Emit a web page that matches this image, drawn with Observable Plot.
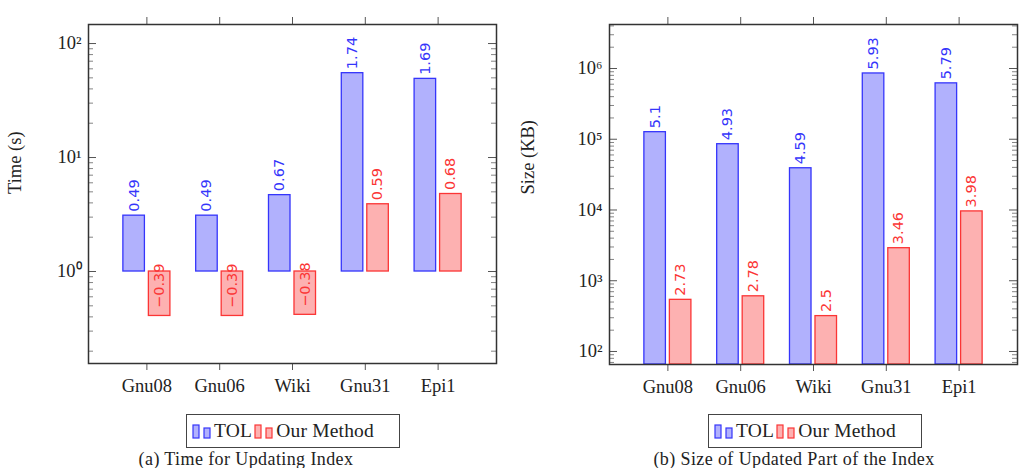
<!DOCTYPE html>
<html>
<head>
<meta charset="utf-8">
<script src="https://cdn.jsdelivr.net/npm/d3@7"></script>
<script src="https://cdn.jsdelivr.net/npm/@observablehq/plot@0.6"></script>
<style>
  html, body { margin: 0; padding: 0; width: 1026px; height: 468px; overflow: hidden; background: #fff; }
  .abs { position: absolute; }
  .legend { position: absolute; top: 414px; width: 207px; height: 32px; border: 1.5px solid #444; box-sizing: content-box;
            font-family: "Liberation Serif", serif; font-size: 19.5px; color: #222; display: flex; align-items: center; padding-left: 5px; letter-spacing: 0.2px; }
  .legend svg { display: block; }
  .legend span { margin: 0 2px 0 2px; }
  .caption { position: absolute; top: 450px; width: 520px; text-align: center; font-family: "Liberation Serif", serif; font-size: 18px; line-height: 1; color: #222; white-space: nowrap; letter-spacing: 0.4px; }
</style>
</head>
<body>
<div id="pa" class="abs" style="left:0;top:0"></div>
<div id="pb" class="abs" style="left:513px;top:0"></div>
<div id="la" class="legend" style="left:186px"></div>
<div id="lb" class="legend" style="left:708px"></div>
<div class="caption" style="left:-14px">(a) Time for Updating Index</div>
<div class="caption" style="left:534px">(b) Size of Updated Part of the Index</div>
<script>
// ---- data (log10 values, as labelled on the bars) ----
const categories = ["Gnu08", "Gnu06", "Wiki", "Gnu31", "Epi1"];
const seriesNames = ["TOL", "Our Method"];
const timeTOL = [0.49, 0.49, 0.67, 1.74, 1.69];
const timeOur = [-0.39, -0.39, -0.38, 0.59, 0.68];
const sizeTOL = [5.1, 4.93, 4.59, 5.93, 5.79];
const sizeOur = [2.73, 2.78, 2.5, 3.46, 3.98];
const timeTicks = [1, 10, 100];
const sizeTicks = [1e2, 1e3, 1e4, 1e5, 1e6];

const BLUE = "#3535fb", BLUE_FILL = "#b1b1fd";
const RED = "#fb3535", RED_FILL = "#fdb1b1";
const SUP = {"0":"⁰","1":"¹","2":"²","3":"³","4":"⁴","5":"⁵","6":"⁶","7":"⁷","8":"⁸","9":"⁹","-":"⁻"};
const supFmt = v => "10" + String(Math.round(Math.log10(v))).split("").map(c => SUP[c]).join("");
const numFmt = v => String(v).replace("-", "−");

function minorTicks(lo, hi) {
  const out = [];
  for (let e = Math.floor(Math.log10(lo)); e <= Math.ceil(Math.log10(hi)); e++) {
    for (let m = 2; m <= 9; m++) {
      const v = m * Math.pow(10, e);
      if (v >= lo && v <= hi) out.push(v);
    }
  }
  return out;
}

function panel({tol, our, ylabel, yDomain, majors, base, marginLeft, marginRight}) {
  const W = 513, H = 410, marginTop = 24;
  const frameW = W - marginLeft - marginRight;
  const tolRows = categories.map((c, i) => ({cat: c, v: tol[i]}));
  const ourRows = categories.map((c, i) => ({cat: c, v: our[i]}));
  const minors = minorTicks(yDomain[0], yDomain[1]);
  const labelMarks = (rows, color, dx) => [
    Plot.text(rows.filter(d => d.v >= 0), {x: "cat", y: d => Math.pow(10, d.v), text: d => numFmt(d.v),
      rotate: -90, textAnchor: "start", dx, dy: -4, fill: color, fontSize: 14.5, fontFamily: "DejaVu Sans"}),
    Plot.text(rows.filter(d => d.v < 0), {x: "cat", y: d => Math.pow(10, d.v), text: d => numFmt(d.v),
      rotate: -90, textAnchor: "start", dx, dy: -8, fill: color, fontSize: 14.5, fontFamily: "DejaVu Sans"})
  ];
  return Plot.plot({
    width: W, height: H,
    marginLeft, marginRight, marginTop, marginBottom: H - (marginTop + (base === 1 ? 339 : 340)),
    style: {fontFamily: "Liberation Serif, serif", fontSize: "18.5px", color: "#222", background: "transparent"},
    x: {type: "band", domain: categories, paddingInner: 0.354, paddingOuter: 0.479, round: false, label: null},
    y: {type: "log", domain: yDomain, label: null},
    marks: [
      Plot.barY(tolRows, {x: "cat", y1: base, y2: d => Math.pow(10, d.v), insetRight: 25.5,
        fill: BLUE_FILL, stroke: BLUE, strokeWidth: 1.3}),
      Plot.barY(ourRows, {x: "cat", y1: base, y2: d => Math.pow(10, d.v), insetLeft: 25.5,
        fill: RED_FILL, stroke: RED, strokeWidth: 1.3}),
      ...labelMarks(tolRows, BLUE, -13),
      ...labelMarks(ourRows, RED, 12.5),
      Plot.ruleY(majors, {insetRight: frameW - 8, stroke: "#555", strokeWidth: 1}),
      Plot.ruleY(majors, {insetLeft: frameW - 8, stroke: "#555", strokeWidth: 1}),
      Plot.ruleY(minors, {insetRight: frameW - 5, stroke: "#777", strokeWidth: 0.9}),
      Plot.ruleY(minors, {insetLeft: frameW - 5, stroke: "#777", strokeWidth: 0.9}),
      Plot.axisX({anchor: "bottom", tickSize: 7, tickPadding: 8, stroke: "#555", label: null}),
      Plot.axisX({anchor: "top", tickSize: 8, tickFormat: () => "", stroke: "#555", label: null}),
      Plot.axisY({anchor: "left", ticks: majors, tickSize: 0, tickPadding: 7, tickFormat: supFmt, label: null}),
      Plot.text([ylabel], {frameAnchor: "left", dx: -(marginLeft - 15), rotate: -90, text: d => d, fontSize: 18.5}),
      Plot.frame({stroke: "#333", strokeWidth: 1.5})
    ]
  });
}

document.getElementById("pa").append(panel({
  tol: timeTOL, our: timeOur, ylabel: "Time (s)",
  yDomain: [Math.pow(10, -0.807), Math.pow(10, 2.167)], majors: timeTicks, base: 1,
  marginLeft: 88, marginRight: 17
}));
document.getElementById("pb").append(panel({
  tol: sizeTOL, our: sizeOur, ylabel: "Size (KB)",
  yDomain: [Math.pow(10, 1.816), Math.pow(10, 6.622)], majors: sizeTicks, base: Math.pow(10, 1.816),
  marginLeft: 96, marginRight: 9
}));

// ---- legends ----
function legendHTML() {
  const icon = (fill, stroke) =>
    `<svg width="20" height="15"><rect x="1" y="1" width="6" height="13" fill="${fill}" stroke="${stroke}" stroke-width="1.2"/>` +
    `<rect x="12" y="4" width="6" height="10" fill="${fill}" stroke="${stroke}" stroke-width="1.2"/></svg>`;
  return icon(BLUE_FILL, BLUE) + `<span>${seriesNames[0]}</span>` + icon(RED_FILL, RED) + `<span>${seriesNames[1]}</span>`;
}
document.getElementById("la").innerHTML = legendHTML();
document.getElementById("lb").innerHTML = legendHTML();
</script>
</body>
</html>
